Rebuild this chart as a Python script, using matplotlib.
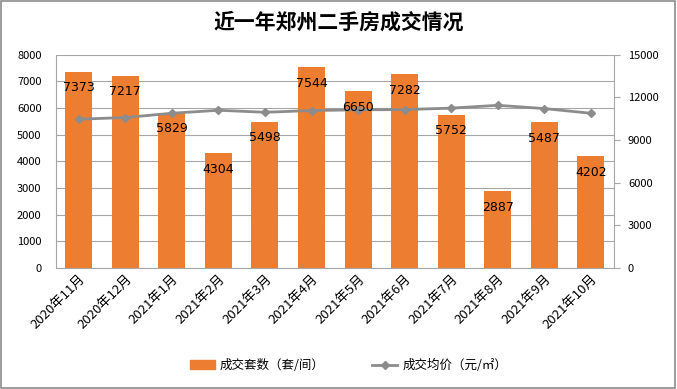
import numpy as np
import matplotlib.pyplot as plt
from matplotlib.lines import Line2D
from matplotlib.patches import Patch, Rectangle

plt.rcParams['font.family'] = ['Noto Sans CJK SC', 'DejaVu Sans']

# data
months = ["2020年11月", "2020年12月", "2021年1月", "2021年2月", "2021年3月", "2021年4月",
          "2021年5月", "2021年6月", "2021年7月", "2021年8月", "2021年9月", "2021年10月"]
volume = [7373, 7217, 5829, 4304, 5498, 7544, 6650, 7282, 5752, 2887, 5487, 4202]
avg_price = [10470, 10590, 10890, 11100, 10960, 11080, 11130, 11150, 11250, 11450, 11220, 10890]

bar_color = "#ED7D31"
line_color = "#8C8C8C"
axis_color = "#A6A6A6"

fig = plt.figure(figsize=(6.77, 3.89), dpi=100)
fig.patches.append(Rectangle((0.002, 0.003), 0.995, 0.994, transform=fig.transFigure,
                             fill=False, edgecolor="#8C8C8C", linewidth=1.2))

ax = fig.add_axes([0.082, 0.311, 0.825, 0.548])
x = np.arange(len(months))
ax.bar(x, volume, width=0.58, color=bar_color, zorder=2)
ax.set_ylim(0, 8000)
ax.set_xlim(-0.5, len(months) - 0.5)
ax.set_yticks(range(0, 8001, 1000))
ax.yaxis.grid(True, color=axis_color, linewidth=0.8, zorder=0)
ax.set_axisbelow(True)
ax.tick_params(axis="y", length=0, labelsize=8, pad=10)
ax.tick_params(axis="x", length=0, pad=3)
ax.set_xticks(x)
ax.set_xticklabels(months, rotation=45, ha="right", rotation_mode="anchor", fontsize=9.5)
for s in ["top", "right"]:
    ax.spines[s].set_visible(False)
ax.spines["bottom"].set_color(axis_color)
ax.spines["left"].set_color(axis_color)

ax2 = ax.twinx()
ax2.plot(x, avg_price, color=line_color, linewidth=2, marker="D", markersize=4, zorder=3)
ax2.set_ylim(0, 15000)
ax2.set_yticks(range(0, 15001, 3000))
ax2.tick_params(axis="y", labelsize=8, length=4, color=axis_color, pad=6)
for s in ["top", "left", "bottom"]:
    ax2.spines[s].set_visible(False)
ax2.spines["right"].set_color(axis_color)

# bar labels drawn on top of the line
for xi, v in zip(x, volume):
    ax2.annotate(str(v), (xi, v), xycoords=ax.transData, xytext=(0, -7),
                 textcoords="offset points", ha="center", va="top",
                 fontsize=9, family="DejaVu Sans", zorder=5)

fig.text(0.5, 0.943, "近一年郑州二手房成交情况", ha="center", va="center",
         fontsize=15, fontweight="bold")

handles = [Patch(color=bar_color),
           Line2D([0], [0], color=line_color, linewidth=2, marker="D", markersize=4)]
fig.legend(handles, ["成交套数（套/间）", "成交均价（元/㎡）"], loc="center",
           bbox_to_anchor=(0.515, 0.06), ncol=2, frameon=False, fontsize=9,
           handlelength=2.0, handletextpad=0.4, columnspacing=3.8)

fig.savefig("out.png", dpi=100)
